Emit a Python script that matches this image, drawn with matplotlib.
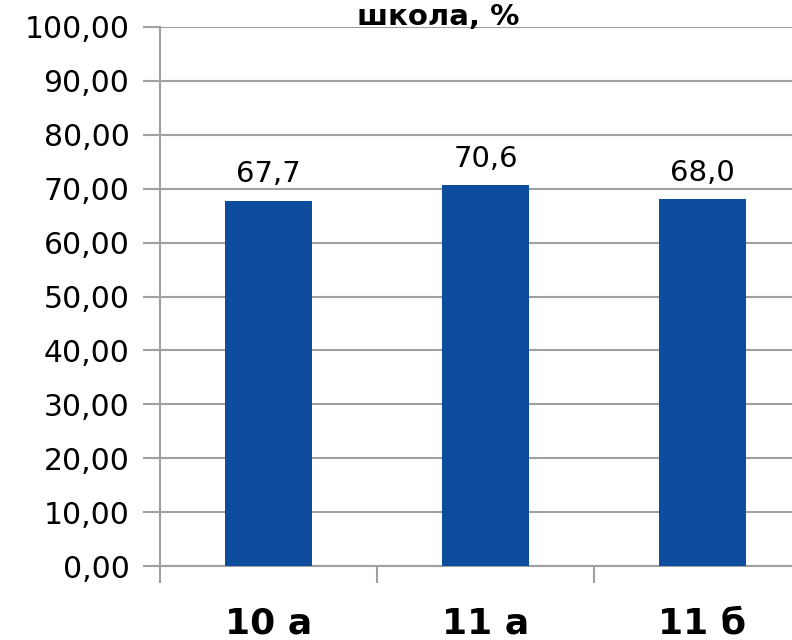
import matplotlib
matplotlib.use('Agg')
import matplotlib.pyplot as plt

# Data
classes = ['10 а', '11 а', '11 б']
values = [67.7, 70.6, 68.0]
y_ticks = [0, 10, 20, 30, 40, 50, 60, 70, 80, 90, 100]
title = 'школа, %'

bar_color = '#0E4D9E'
grid_color = '#A0A0A0'

plt.rcParams['font.family'] = ['DejaVu Sans']

fig = plt.figure(figsize=(7.92, 6.4), dpi=100)
ax = fig.add_axes([160 / 792, 1 - 566 / 640, 651 / 792, 539 / 640])

x = list(range(len(classes)))
ax.bar(x, values, width=0.405, color=bar_color, zorder=3)

# value labels above bars
for xi, v in zip(x, values):
    ax.text(xi, v + 3.5, f'{v:.1f}'.replace('.', ','), ha='center', va='baseline',
            fontsize=21, color='black')

ax.set_xlim(-0.5, 2.5)
ax.set_ylim(0, 100)
ax.set_yticks(y_ticks)
ax.set_yticklabels([f'{t:.2f}'.replace('.', ',') for t in y_ticks], fontsize=21.5)
ax.yaxis.grid(True, color=grid_color, linewidth=1.5, zorder=0)

# category boundaries as tick marks
ax.set_xticks([-0.5, 0.5, 1.5, 2.5])
ax.set_xticklabels([])
ax.tick_params(axis='x', length=12, width=1.5, color=grid_color, direction='out')
ax.tick_params(axis='y', length=12, width=1.5, color=grid_color, direction='out', pad=10)
for xi, name in zip(x, classes):
    ax.text(xi, -7.6, name, ha='center', va='top', fontsize=26, fontweight='bold',
            transform=ax.transData, clip_on=False)

for side in ['top', 'right']:
    ax.spines[side].set_visible(False)
for side in ['left', 'bottom']:
    ax.spines[side].set_color(grid_color)
    ax.spines[side].set_linewidth(1.5)

fig.text(438 / 792, 1 - 3 / 640, title, ha='center', va='top',
         fontsize=21, fontweight='bold')

fig.savefig('out.png', dpi=100)
